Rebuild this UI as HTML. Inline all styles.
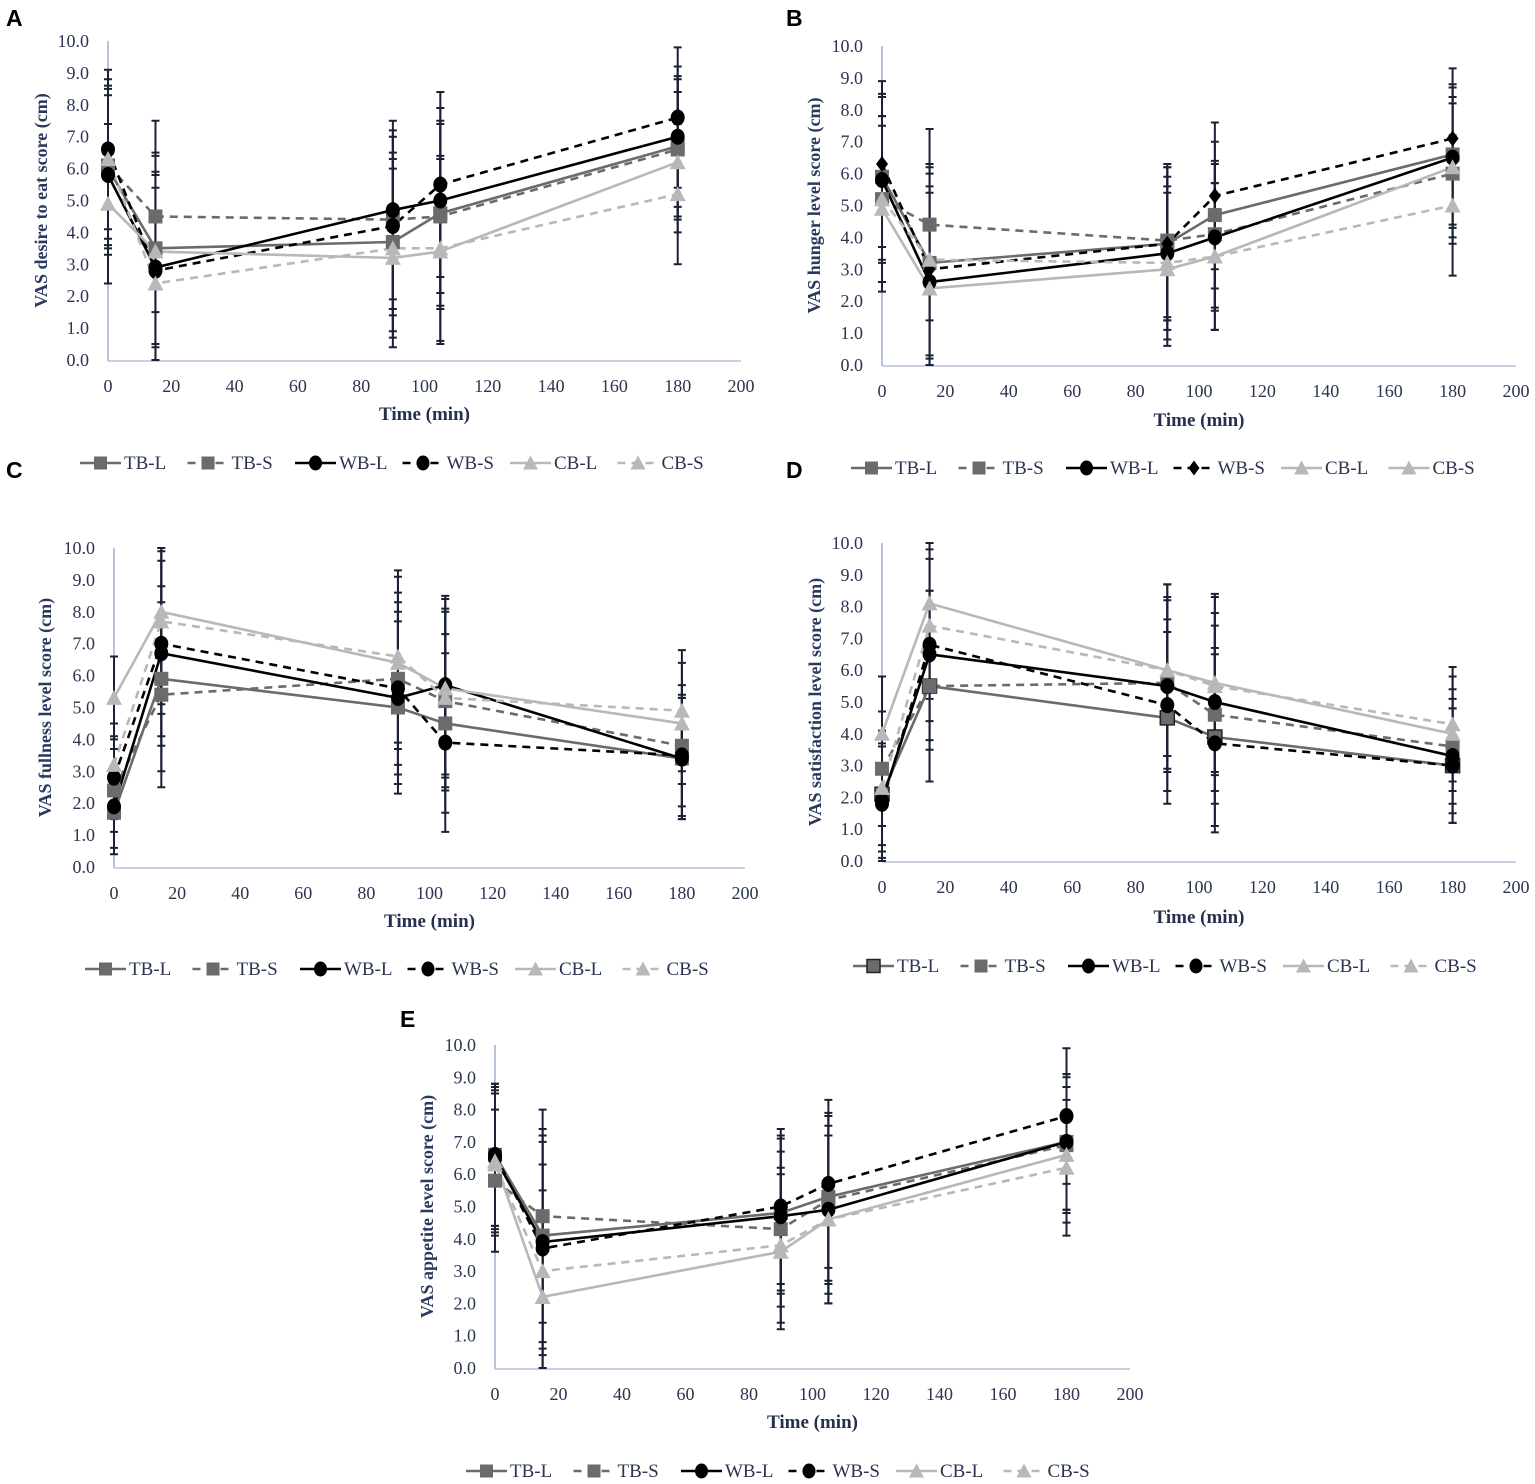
<!DOCTYPE html>
<html><head><meta charset="utf-8"><style>
html,body{margin:0;padding:0;background:#fff}
svg{display:block}
text{font-family:"Liberation Serif",serif}
text.lbl{font-family:"Liberation Sans",sans-serif}
</style></head><body>
<svg id="fig" width="1535" height="1484" viewBox="0 0 1535 1484" xmlns="http://www.w3.org/2000/svg"></svg>
<script>
const times=[0,15,90,105,180];
const seriesNames=["TB-L","TB-S","WB-L","WB-S","CB-L","CB-S"];
const xTicks=[0,20,40,60,80,100,120,140,160,180,200];
const yTicks=["0.0","1.0","2.0","3.0","4.0","5.0","6.0","7.0","8.0","9.0","10.0"];
// Panel A: desire to eat
const aTBL=[6.0,3.5,3.7,4.6,6.7];
const aTBS=[6.1,4.5,4.4,4.5,6.6];
const aWBL=[5.8,2.9,4.7,5.0,7.0];
const aWBS=[6.6,2.8,4.2,5.5,7.6];
const aCBL=[4.9,3.4,3.2,3.4,6.2];
const aCBS=[6.3,2.4,3.5,3.5,5.2];
const aSD=[2.5,3.0,2.8,2.9,2.2];
// Panel B: hunger
const bTBL=[5.9,3.2,3.8,4.7,6.6];
const bTBS=[5.2,4.4,3.9,4.1,6.0];
const bWBL=[5.8,2.6,3.5,4.0,6.5];
const bWBS=[6.3,3.0,3.8,5.3,7.1];
const bCBL=[4.9,2.4,3.0,3.4,6.2];
const bCBS=[5.2,3.3,3.2,3.4,5.0];
const bSD=[2.6,3.0,2.4,2.3,2.2];
// Panel C: fullness
const cTBL=[1.7,5.9,5.0,4.5,3.4];
const cTBS=[2.4,5.4,5.9,5.2,3.8];
const cWBL=[1.9,6.7,5.3,5.7,3.4];
const cWBS=[2.8,7.0,5.6,3.9,3.5];
const cCBL=[5.3,8.0,6.4,5.6,4.5];
const cCBS=[3.2,7.7,6.6,5.3,4.9];
const cSD=[1.3,2.9,2.7,2.8,1.9];
// Panel D: satisfaction
const dTBL=[2.1,5.5,4.5,3.9,3.0];
const dTBS=[2.9,5.5,5.6,4.6,3.6];
const dWBL=[1.9,6.5,5.5,5.0,3.3];
const dWBS=[1.8,6.8,4.9,3.7,3.0];
const dCBL=[4.0,8.1,6.0,5.6,4.0];
const dCBS=[2.3,7.4,6.0,5.5,4.3];
const dSD=[1.8,3.0,2.7,2.8,1.8];
// Panel E: appetite
const eTBL=[6.6,4.1,4.8,5.3,7.0];
const eTBS=[5.8,4.7,4.3,5.2,6.9];
const eWBL=[6.5,3.9,4.7,4.9,7.0];
const eWBS=[6.6,3.7,5.0,5.7,7.8];
const eCBL=[6.4,2.2,3.6,4.6,6.6];
const eCBS=[6.3,3.0,3.8,4.6,6.2];
const eSD=[2.2,3.3,2.4,2.6,2.1];

const NS="http://www.w3.org/2000/svg";
const svg=document.getElementById('fig');
function el(tag,attrs,parent){const e=document.createElementNS(NS,tag);for(const k in attrs)e.setAttribute(k,attrs[k]);(parent||svg).appendChild(e);return e;}
const styles=[
 {c:"#6b6b6b",dash:null,m:"sq"},
 {c:"#6b6b6b",dash:"8,6",m:"sq"},
 {c:"#000",dash:null,m:"ci"},
 {c:"#000",dash:"8,6",m:"ci"},
 {c:"#b8b8b8",dash:null,m:"tr"},
 {c:"#b8b8b8",dash:"8,6",m:"tr"}];
function marker(g,type,x,y,c,s,stroke){
 let m;
 if(type==="sq"){m=el('rect',{x:x-s/2,y:y-s/2,width:s,height:s,fill:c},g);if(stroke){m.setAttribute('stroke','#222');m.setAttribute('stroke-width','1.5');}}
 else if(type==="ci"){m=el('ellipse',{cx:x,cy:y,rx:s/2,ry:s/2+1,fill:c},g);}
 else if(type==="di"){m=el('polygon',{points:`${x},${y-s/2-1} ${x+s/2-1},${y} ${x},${y+s/2+1} ${x-s/2+1},${y}`,fill:c},g);}
 else {m=el('polygon',{points:`${x},${y-s/2-1} ${x+s/2+1},${y+s/2} ${x-s/2-1},${y+s/2}`,fill:c},g);}
 return m;
}
function panel(p){
 const g=el('g',{});
 
 
 const X=v=>p.x0+(p.x1-p.x0)*v/200;
 const Y=v=>p.y0+(p.y10-p.y0)*v/10;
 const lt=el('text',{class:'lbl',x:p.lx,y:p.ly,'font-weight':'bold','font-size':23,fill:'#000'},g);lt.textContent=p.id;
 
 const ya=el('line',{x1:X(0),y1:Y(10),x2:X(0),y2:Y(0)+1,stroke:'#9fb1cc','stroke-width':1.5},g);
 
 const xa=el('line',{x1:X(0),y1:Y(0)+1,x2:X(200),y2:Y(0)+1,stroke:'#b4c2d8','stroke-width':1.5},g);
 
 yTicks.forEach((t,i)=>{const tx=el('text',{x:X(0)-19,y:Y(i)+6,'text-anchor':'end','font-size':18,fill:'#2b3550'},g);tx.textContent=t;
  });
 xTicks.forEach(t=>{const tx=el('text',{x:X(t),y:Y(0)+32,'text-anchor':'middle','font-size':18,fill:'#2b3550'},g);tx.textContent=t;
  });
 const xt=el('text',{x:(X(0)+X(200))/2,y:p.ty,'text-anchor':'middle','font-size':19,'font-weight':'bold',fill:'#24304d'},g);xt.textContent='Time (min)';
 
 const cy=(Y(0)+Y(10))/2;
 const yt=el('text',{x:p.yx,y:cy,'text-anchor':'middle','font-size':18,'font-weight':'bold',fill:'#2a3a5e',transform:`rotate(-90 ${p.yx} ${cy})`},g);yt.textContent=p.ytitle;
 
 p.data.forEach((arr,si)=>{arr.forEach((v,i)=>{
  const sd=p.sd[i];const x=X(times[i]);const lo=Math.max(0,v-sd),hi=Math.min(10,v+sd);
  const eb=el('path',{d:`M${x},${Y(lo)}V${Y(hi)}M${x-4},${Y(lo)}h8M${x-4},${Y(hi)}h8`,stroke:'#1a2035','stroke-width':2,fill:'none'},g);
  
 });});
 p.data.forEach((arr,si)=>{const st=styles[si];
  const d=arr.map((v,i)=>(i?'L':'M')+X(times[i])+','+Y(v)).join('');
  const ln=el('path',{d:d,stroke:st.c,'stroke-width':2.6,fill:'none'},g);if(st.dash)ln.setAttribute('stroke-dasharray',st.dash);
  
 });
 p.data.forEach((arr,si)=>{const st=styles[si];const mt=(p.diamond&&si===3)?'di':st.m;
  arr.forEach((v,i)=>{const m=marker(g,mt,X(times[i]),Y(v),st.c,14,p.hollow&&si===0);
   });});
 seriesNames.forEach((n,si)=>{const st=styles[si];const lx=p.legx+si*107.5,ly=p.legy;
  const lg=el('g',{},g);
  const dashed=st.dash&&!(p.cbsSolid&&si===5);
  const l=el('line',{x1:lx,y1:ly,x2:lx+41,y2:ly,stroke:st.c,'stroke-width':2.6},lg);if(dashed)l.setAttribute('stroke-dasharray','8,6');
  const mt=(p.diamond&&si===3)?'di':st.m;marker(lg,mt,lx+20.5,ly,st.c,13,p.hollow&&si===0);
  const t=el('text',{x:lx+44,y:ly+6,'font-size':19,fill:'#2b3550'},lg);t.textContent=n;
 });
}
panel({id:'A',lx:6,ly:26,x0:108,x1:741,y0:360,y10:41,ty:420,yx:47,legx:80,legy:463,ytitle:'VAS desire to eat score (cm)',data:[aTBL,aTBS,aWBL,aWBS,aCBL,aCBS],sd:aSD});
panel({id:'B',lx:786,ly:26,x0:882,x1:1516,y0:365,y10:46,ty:426,yx:820,legx:851,legy:468,ytitle:'VAS hunger level score (cm)',data:[bTBL,bTBS,bWBL,bWBS,bCBL,bCBS],sd:bSD,diamond:true,cbsSolid:true});
panel({id:'C',lx:6,ly:478,x0:114,x1:745,y0:867,y10:548,ty:927,yx:51,legx:85,legy:969,ytitle:'VAS fullness level score (cm)',data:[cTBL,cTBS,cWBL,cWBS,cCBL,cCBS],sd:cSD});
panel({id:'D',lx:786,ly:478,x0:882,x1:1516,y0:861,y10:543,ty:923,yx:821,legx:853,legy:966,ytitle:'VAS satisfaction level score (cm)',data:[dTBL,dTBS,dWBL,dWBS,dCBL,dCBS],sd:dSD,hollow:true});
panel({id:'E',lx:400,ly:1027,x0:495,x1:1130,y0:1368,y10:1045,ty:1428,yx:433,legx:466,legy:1471,ytitle:'VAS appetite level score (cm)',data:[eTBL,eTBS,eWBL,eWBS,eCBL,eCBS],sd:eSD});
</script>
</body></html>
